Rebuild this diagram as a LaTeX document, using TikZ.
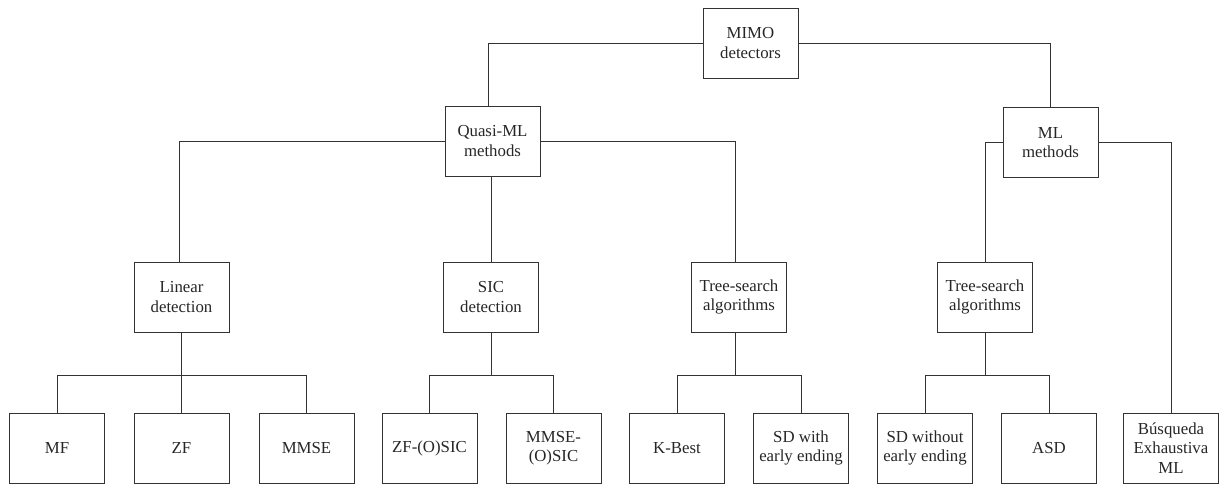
\documentclass[tikz,border=0pt]{standalone}
\usepackage{fontspec}
\setmainfont{Liberation Serif}
\newfontfamily\boxfont{Liberation Serif}
\begin{document}
\begin{tikzpicture}[x=1pt,y=-1pt,
  box/.style={draw=black!80, line width=0.9pt, minimum width=95pt, minimum height=70pt,
    inner sep=0pt, align=center, text=black!85, font=\boxfont\fontsize{16.8}{19.5}\selectfont},
  link/.style={draw=black!80, line width=0.9pt}]
\useasboundingbox (0,0) rectangle (1224,484);
% level 1
\node[box] (MIMO) at (750.5,43) {MIMO\\detectors};
% level 2
\node[box] (Quasi) at (492.5,141) {Quasi-ML\\methods};
\node[box] (ML) at (1050.5,142.5) {ML\\methods};
% level 3
\node[box] (Linear) at (181.5,297) {Linear\\detection};
\node[box] (SIC) at (491,297) {SIC\\detection};
\node[box] (TreeA) at (739,297) {Tree-search\\algorithms};
\node[box] (TreeB) at (985,297) {Tree-search\\algorithms};
% level 4
\node[box] (MF) at (57,448) {MF};
\node[box] (ZF) at (181.5,448) {ZF};
\node[box] (MMSE) at (306.5,448) {MMSE};
\node[box] (ZFOSIC) at (429.5,448) {ZF-(O)SIC};
\node[box] (MMSEOSIC) at (553.5,448) {MMSE-\\(O)SIC};
\node[box] (KBest) at (677,448) {K-Best};
\node[box] (SDwith) at (801,448) {SD with\\early ending};
\node[box] (SDwithout) at (925,448) {SD without\\early ending};
\node[box] (ASD) at (1049,448) {ASD};
\node[box] (Busq) at (1171,448) {Búsqueda\\Exhaustiva\\ML};
% connectors
\draw[link] (MIMO.west) -| ([xshift=-4.5pt]Quasi.north);
\draw[link] (MIMO.east) -| (ML.north);
\draw[link] (Quasi.west) -| ([xshift=-2pt]Linear.north);
\draw[link] (Quasi.east) -| ([xshift=-3.5pt]TreeA.north);
\draw[link] ([xshift=-1.5pt]Quasi.south) -- (SIC.north);
\draw[link] (ML.west) -| (TreeB.north);
\draw[link] (ML.east) -| (Busq.north);
% bottom branches
\draw[link] (Linear.south) -- (ZF.north);
\draw[link] (MF.north) -- ++(0,-37) -| (MMSE.north);
\draw[link] (SIC.south) -- ++(0,44);
\draw[link] (ZFOSIC.north) -- ++(0,-37) -| (MMSEOSIC.north);
\draw[link] ([xshift=-3.5pt]TreeA.south) -- ++(0,44);
\draw[link] (KBest.north) -- ++(0,-37) -| (SDwith.north);
\draw[link] (TreeB.south) -- ++(0,44);
\draw[link] (SDwithout.north) -- ++(0,-37) -| (ASD.north);
\end{tikzpicture}
\end{document}
